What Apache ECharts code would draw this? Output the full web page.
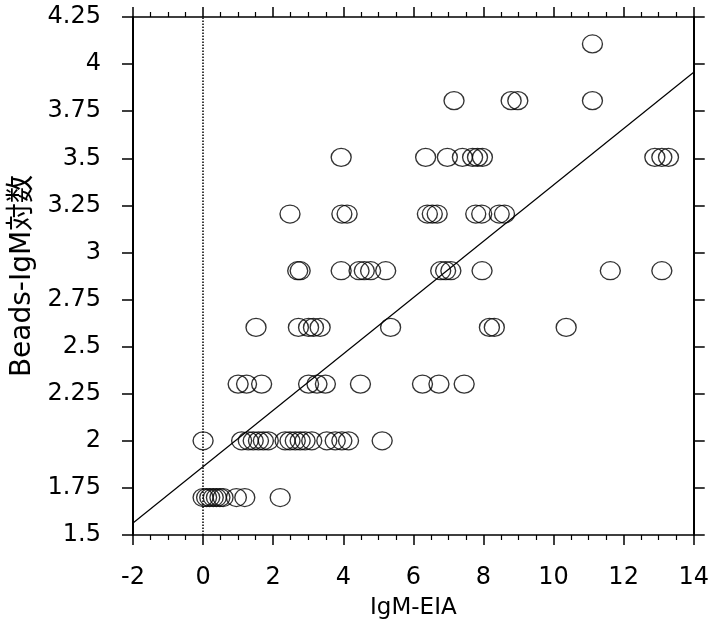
<!DOCTYPE html>
<html>
<head>
<meta charset="utf-8">
<script src="https://cdn.jsdelivr.net/npm/echarts@6/dist/echarts.min.js"></script>
<style>
  html, body { margin: 0; padding: 0; background: #fff; }
  #main { width: 712px; height: 631px; }
</style>
</head>
<body>
<div id="main"></div>
<script>
// y levels (log10 of dilution) and the IgM-EIA values found at each level
var level170 = [0.0, 0.1, 0.19, 0.29, 0.38, 0.48, 0.57, 0.95, 1.19, 2.2];
var level200 = [0.0, 1.1, 1.29, 1.43, 1.58, 1.72, 1.86, 2.34, 2.48, 2.63, 2.77, 2.91, 3.1, 3.53, 3.77, 3.96, 4.15, 5.11];
var level230 = [1.0, 1.24, 1.67, 3.01, 3.25, 3.49, 4.49, 6.26, 6.73, 7.45];
var level260 = [1.51, 2.72, 3.01, 3.15, 3.34, 5.35, 8.17, 8.31, 10.36];
var level290 = [2.7, 2.77, 3.94, 4.45, 4.6, 4.78, 5.21, 6.78, 6.92, 7.07, 7.96, 11.62, 13.09];
var level320 = [2.48, 3.96, 4.11, 6.4, 6.54, 6.68, 7.78, 7.95, 8.45, 8.6];
var level350 = [3.94, 6.35, 6.97, 7.4, 7.69, 7.83, 7.97, 12.89, 13.09, 13.28];
var level380 = [7.16, 8.79, 8.98, 11.11];
var level410 = [11.11];

var levelValues = [1.699, 2.0, 2.301, 2.602, 2.903, 3.204, 3.505, 3.806, 4.107];
var levelRows = [level170, level200, level230, level260, level290, level320, level350, level380, level410];

// regression line end points
var fitX = [-2, 14];
var fitY = [1.564, 3.957];

var points = [];
levelRows.forEach(function (row, i) {
  row.forEach(function (x) {
    points.push([x, levelValues[i]]);
  });
});

var font = 'DejaVu Sans, Noto Sans CJK JP, sans-serif';

var chart = echarts.init(document.getElementById('main'));

function xAxisOf(pos, showLabel) {
  return {
    type: 'value',
    position: pos,
    min: -2,
    max: 14,
    interval: 2,
    axisLine: { show: true, onZero: false, lineStyle: { color: '#000', width: 1.5 } },
    axisTick: { show: true, inside: false, length: 10, lineStyle: { color: '#000', width: 1.5 } },
    minorTick: { show: true, splitNumber: 4, length: 5, lineStyle: { color: '#000', width: 1.2 } },
    splitLine: { show: false },
    axisLabel: { show: showLabel, color: '#000', fontSize: 24, fontFamily: font, margin: 31 },
    name: showLabel ? 'IgM-EIA' : '',
    nameLocation: 'middle',
    nameGap: 62,
    nameTextStyle: { color: '#000', fontSize: 23, fontFamily: font }
  };
}

function yAxisOf(pos, showLabel) {
  return {
    type: 'value',
    position: pos,
    min: 1.5,
    max: 4.25,
    interval: 0.25,
    axisLine: { show: true, onZero: false, lineStyle: { color: '#000', width: 2 } },
    axisTick: { show: true, inside: false, length: 11, lineStyle: { color: '#000', width: 1.5 } },
    splitLine: { show: false },
    axisLabel: { show: showLabel, color: '#000', fontSize: 24, fontFamily: font, margin: 32 },
    name: showLabel ? 'Beads-IgM対数' : '',
    nameLocation: 'middle',
    nameGap: 96,
    nameTextStyle: { color: '#000', fontSize: 28, fontFamily: font }
  };
}

var option = {
  animation: false,
  backgroundColor: '#fff',
  grid: { left: 133, right: 16, top: 17, bottom: 96 },
  xAxis: [xAxisOf('bottom', true), xAxisOf('top', false)],
  yAxis: [yAxisOf('left', true), yAxisOf('right', false)],
  series: [
    {
      type: 'scatter',
      xAxisIndex: 0,
      yAxisIndex: 0,
      symbol: 'circle',
      symbolSize: [20, 18],
      itemStyle: { color: 'rgba(0,0,0,0)', borderColor: '#000', borderWidth: 1.3 },
      data: points,
      markLine: {
        silent: true,
        symbol: ['none', 'none'],
        label: { show: false },
        lineStyle: { color: '#000', type: 'dotted', width: 1.5 },
        data: [{ xAxis: 0 }]
      }
    },
    {
      type: 'line',
      xAxisIndex: 0,
      yAxisIndex: 0,
      symbol: 'none',
      silent: true,
      lineStyle: { color: '#000', width: 1.2 },
      data: [[fitX[0], fitY[0]], [fitX[1], fitY[1]]]
    }
  ]
};

chart.setOption(option);
</script>
</body>
</html>
